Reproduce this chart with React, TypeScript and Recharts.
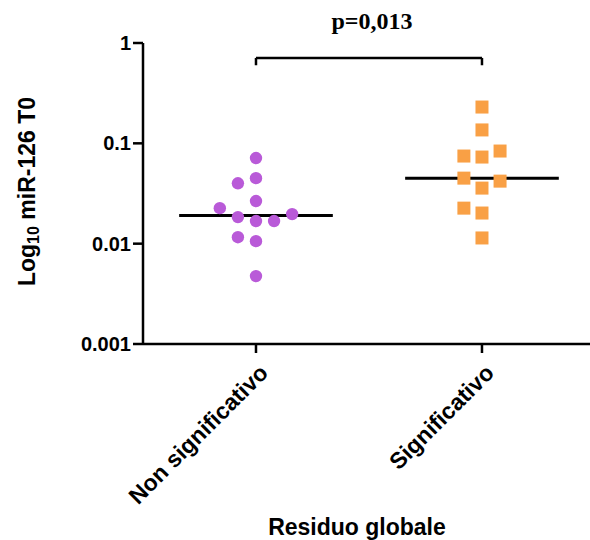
import React from "react";
import { ScatterChart, Scatter, XAxis, YAxis, ReferenceLine } from "recharts";

// categories on the x axis
const categories = ["Non significativo", "Significativo"];

// miR-126 T0 values per group
const nonSignificativo = [0.0713, 0.045, 0.040, 0.0266, 0.0226, 0.0184, 0.0168, 0.0168, 0.0197, 0.0116, 0.0106, 0.00475];
const significativo = [0.23, 0.136, 0.0747, 0.073, 0.0838, 0.045, 0.042, 0.0358, 0.0226, 0.0202, 0.0114];

// column slot of each point inside its group (scatter jitter)
const slotsNon = [0, 0, -1, 0, -2, -1, 0, 1, 2, -1, 0, 0];
const slotsSig = [0, 0, -1, 0, 1, -1, 1, 0, -1, 0, 0];

const yTicks = [0.001, 0.01, 0.1, 1];
const pLabel = "p=0,013";

const SLOT = 0.08;
const HALF = 0.34;

const median = (arr: number[]) => {
    const s = [...arr].sort((a, b) => a - b);
    const m = Math.floor(s.length / 2);
    return s.length % 2 ? s[m] : (s[m - 1] + s[m]) / 2;
};

const toPoints = (vals: number[], slots: number[], cat: number) =>
    vals.map((v, i) => ({ x: cat + slots[i] * SLOT, y: v }));

const dataNon = toPoints(nonSignificativo, slotsNon, 1);
const dataSig = toPoints(significativo, slotsSig, 2);

const font = "'Liberation Sans', Arial, sans-serif";

const Dot = (props: any) => <circle cx={props.cx} cy={props.cy} r={6.2} fill="#B95AD8" />;
const Square = (props: any) => (
    <rect x={props.cx - 6.5} y={props.cy - 6.5} width={13} height={13} fill="#F9A045" />
);

const XTick = (props: any) => {
    const { x, y, payload } = props;
    const name = categories[Math.round(payload.value) - 1];
    return (
        <g transform={`translate(${x + 2},${y + 8})`}>
            <text x={0} y={0} dy="0.7em" textAnchor="end" transform="rotate(-45)"
                fontFamily={font} fontWeight="bold" fontSize={23} fill="#000">
                {name}
            </text>
        </g>
    );
};

export default function App() {
    const bracketY = 0.71;
    const legY = 0.6;
    return (
        <div style={{ position: "absolute", left: 0, top: 0 }}>
            <ScatterChart width={590} height={540} margin={{ top: 43, right: 0, bottom: 0, left: 0 }}>
                <XAxis
                    type="number"
                    dataKey="x"
                    domain={[0.5, 2.478]}
                    ticks={[1, 2]}
                    allowDataOverflow
                    height={196}
                    stroke="#000"
                    strokeWidth={2.5}
                    tickSize={9}
                    tick={<XTick />}
                    label={{
                        content: (p: any) => (
                            <text x={357} y={p.viewBox.y + 191} textAnchor="middle"
                                fontFamily={font} fontWeight="bold" fontSize={23} fill="#000">
                                Residuo globale
                            </text>
                        ),
                    }}
                />
                <YAxis
                    type="number"
                    dataKey="y"
                    scale="log"
                    domain={[0.001, 1]}
                    ticks={yTicks}
                    allowDataOverflow
                    width={143}
                    stroke="#000"
                    strokeWidth={2.5}
                    tickSize={10}
                    tickMargin={2}
                    tickFormatter={(v: number) => String(v)}
                    tick={{ fill: "#000", fontFamily: font, fontWeight: "bold", fontSize: 20 }}
                    label={{
                        content: (p: any) => {
                            const cy = p.viewBox.y + p.viewBox.height / 2 - 2;
                            const cx = 27;
                            return (
                                <text x={cx} y={cy} textAnchor="middle" dominantBaseline="central"
                                    transform={`rotate(-90, ${cx}, ${cy})`}
                                    fontFamily={font} fontWeight="bold" fontSize={23} fill="#000">
                                    <tspan>Log</tspan>
                                    <tspan dy={6} fontSize={16}>10</tspan>
                                    <tspan dy={-6}> miR-126 T0</tspan>
                                </text>
                            );
                        },
                    }}
                />
                <ReferenceLine segment={[{ x: 1 - HALF, y: median(nonSignificativo) }, { x: 1 + HALF, y: median(nonSignificativo) }]}
                    stroke="#000" strokeWidth={3} />
                <ReferenceLine segment={[{ x: 2 - HALF, y: median(significativo) }, { x: 2 + HALF, y: median(significativo) }]}
                    stroke="#000" strokeWidth={3} />
                <ReferenceLine segment={[{ x: 1, y: legY }, { x: 1, y: bracketY }]} stroke="#000" strokeWidth={2.5} />
                <ReferenceLine segment={[{ x: 2, y: legY }, { x: 2, y: bracketY }]} stroke="#000" strokeWidth={2.5} />
                <ReferenceLine
                    segment={[{ x: 1, y: bracketY }, { x: 2, y: bracketY }]}
                    stroke="#000"
                    strokeWidth={2.5}
                    label={{
                        content: (p: any) => {
                            const vb = p.viewBox;
                            return (
                                <text x={vb.x + vb.width / 2 + 3} y={vb.y - 29} textAnchor="middle"
                                    fontFamily="'Liberation Serif', 'Times New Roman', serif" fontWeight="bold"
                                    fontSize={24} fill="#000">
                                    {pLabel}
                                </text>
                            );
                        },
                    }}
                />
                <Scatter data={dataNon} shape={<Dot />} isAnimationActive={false} />
                <Scatter data={dataSig} shape={<Square />} isAnimationActive={false} />
            </ScatterChart>
        </div>
    );
}
